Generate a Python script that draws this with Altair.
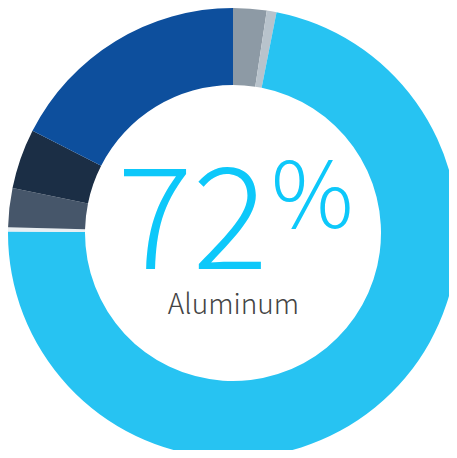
import altair as alt
import pandas as pd

categories = ["Gray", "Light gray", "Aluminum", "Trace", "Slate", "Navy", "Blue"]
values = [2.4, 0.7, 72.0, 0.3, 2.8, 4.3, 17.5]
colors = ["#8d9aa5", "#b8c3cc", "#27c3f2", "#e8eef2", "#46566a", "#1b2e45", "#0d4f9d"]
order = list(range(len(categories)))

df = pd.DataFrame({"category": categories, "value": values, "order": order})

W, H = 441, 442
cx, cy = 225, 225
FONT = "Noto Sans CJK JP"

arc = alt.Chart(df).mark_arc(outerRadius=225, innerRadius=148, stroke=None).encode(
    theta=alt.Theta("value:Q", stack=True),
    order=alt.Order("order:Q"),
    color=alt.Color("category:N", scale=alt.Scale(domain=categories, range=colors), legend=None),
    x=alt.value(cx),
    y=alt.value(cy),
)

big = alt.Chart(pd.DataFrame({"t": ["72"]})).mark_text(
    font=FONT, fontWeight=300, fontSize=141, color="#0dc8fa", align="right", baseline="alphabetic"
).encode(text="t:N", x=alt.value(260), y=alt.value(261))

pct = alt.Chart(pd.DataFrame({"t": ["%"]})).mark_text(
    font=FONT, fontWeight=300, fontSize=92, color="#0dc8fa", align="left", baseline="alphabetic"
).encode(text="t:N", x=alt.value(263), y=alt.value(220))

label = alt.Chart(pd.DataFrame({"t": ["Aluminum"]})).mark_text(
    font=FONT, fontWeight=300, fontSize=28, color="#444444", align="center", baseline="alphabetic"
).encode(text="t:N", x=alt.value(225.5), y=alt.value(306))

chart = alt.layer(arc, big, pct, label).properties(
    width=W, height=H, padding=0, autosize=alt.AutoSizeParams(type="none")
).configure_view(stroke=None)

chart.save("out.html", embed_options={"renderer": "svg", "actions": False})
